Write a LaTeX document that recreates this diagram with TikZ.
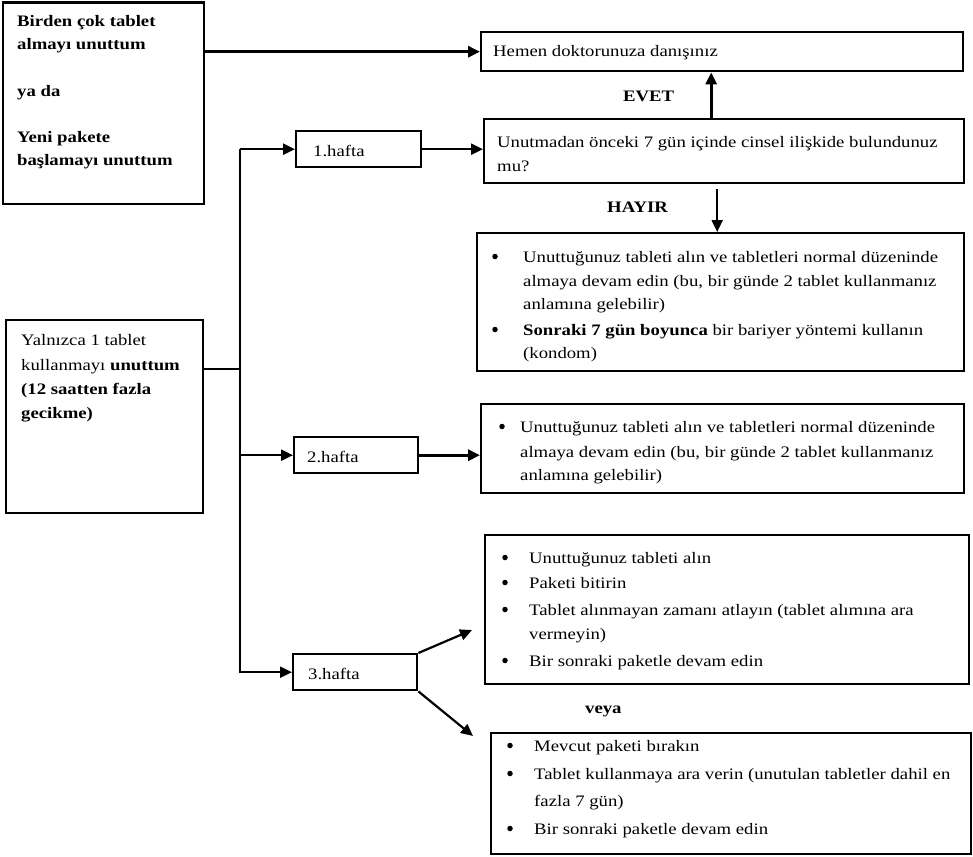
\documentclass[tikz,border=0pt]{standalone}
\usepackage{fontspec}
\setmainfont{Liberation Serif}[FakeStretch=1.17]
\usetikzlibrary{arrows.meta}
\newcommand\mytext[4]{\node[tx] (#1) at (#2,#3) {#4};}
\newcommand\mybold[4]{\node[tx,font=\fontsize{16}{19}\selectfont\bfseries] (#1) at (#2,#3) {#4};}
\newcommand\mybul[5]{\node[dot] (#1b) at (#2,#4-5.5) {};\node[tx] (#1) at (#3,#4) {#5};}
\begin{document}
\begin{tikzpicture}[x=1pt,y=-1pt,
  box/.style={draw, line width=2.4pt, anchor=north west, inner sep=0pt},
  tx/.style={anchor=base west, inner sep=0pt, font=\fontsize{16}{19}\selectfont},
  dot/.style={circle, fill, inner sep=0pt, minimum size=5.5pt},
  conn/.style={line width=2.2pt, -{Triangle[length=12pt,width=11pt]}},
  plain/.style={line width=2.2pt}]
\useasboundingbox (0,0) rectangle (973,856);
% boxes
\node[box, minimum width=201.5pt, minimum height=201.5pt] (A) at (1.5,1.5) {};
\node[box, minimum width=482pt, minimum height=39pt] (B) at (480,31) {};
\node[box, minimum width=480pt, minimum height=64pt] (Q) at (483,118) {};
\node[box, minimum width=487pt, minimum height=138pt] (C) at (476,232) {};
\node[box, minimum width=197pt, minimum height=193pt] (D) at (5,319) {};
\node[box, minimum width=125pt, minimum height=36pt] (H1) at (295,130) {};
\node[box, minimum width=124pt, minimum height=36pt] (H2) at (293,436) {};
\node[box, minimum width=124pt, minimum height=36pt] (H3) at (292,653) {};
\node[box, minimum width=483pt, minimum height=89pt] (E) at (480,403) {};
\node[box, minimum width=484pt, minimum height=149pt] (F) at (484,534) {};
\node[box, minimum width=480pt, minimum height=121pt] (G) at (490,732) {};
% connectors
\draw[conn, line width=3pt] (A.east |- B.west) -- (B.west);
\draw[conn, line width=3pt] ([xshift=-13pt]Q.north) -- ([xshift=-13pt]Q.north |- B.south);
\draw[conn] ([xshift=-7pt,yshift=-5pt]Q.south) -- ([xshift=-7pt]Q.south |- C.north);
\coordinate (vm) at (240,369);
\draw[plain] (D.east |- vm) -- (vm);
\draw[conn] (H1.west -| vm) |- (H3.west);
\draw[conn] (H1.west -| vm) -- (H1.west);
\draw[conn] (H2.west -| vm) -- (H2.west);
\draw[conn] (H1.east) -- (H1.east -| Q.west);
\draw[conn, line width=3pt] (H2.east) -- (H2.east -| E.west);
\coordinate (f3) at (472,630);
\coordinate (g3) at (473,736);
\draw[conn] (H3.north east) -- (f3);
\draw[conn] (H3.south east) -- (g3);
% texts
\mybold{a1}{17}{27}{Birden çok tablet}
\mybold{a2}{17}{50}{almayı unuttum}
\mybold{a3}{17}{96}{ya da}
\mybold{a4}{17}{142}{Yeni pakete}
\mybold{a5}{17}{165}{başlamayı unuttum}
\mytext{b1}{493}{57}{Hemen doktorunuza danışınız}
\mybold{evet}{623}{102}{EVET}
\mytext{q1}{497}{147}{Unutmadan önceki 7 gün içinde cinsel ilişkide bulundunuz}
\mytext{q2}{497}{171}{mu?}
\mybold{hayir}{607}{212}{HAYIR}
\mybul{c1}{495}{523}{262}{Unuttuğunuz tableti alın ve tabletleri normal düzeninde}
\mytext{c2}{523}{286}{almaya devam edin (bu, bir günde 2 tablet kullanmanız}
\mytext{c3}{523}{309}{anlamına gelebilir)}
\mybul{c4}{495}{523}{335}{\textbf{Sonraki 7 gün boyunca} bir bariyer yöntemi kullanın}
\mytext{c5}{523}{358}{(kondom)}
\mytext{d1}{21}{345}{Yalnızca 1 tablet}
\mytext{d2}{21}{370}{kullanmayı \textbf{unuttum}}
\mybold{d3}{21}{394}{(12 saatten fazla}
\mybold{d4}{21}{418}{gecikme)}
\mytext{h1}{313}{156}{1.hafta}
\mytext{h2}{307}{462}{2.hafta}
\mytext{h3}{308}{679}{3.hafta}
\mybul{e1}{502}{520}{432}{Unuttuğunuz tableti alın ve tabletleri normal düzeninde}
\mytext{e2}{520}{457}{almaya devam edin (bu, bir günde 2 tablet kullanmanız}
\mytext{e3}{520}{480}{anlamına gelebilir)}
\mybul{f1}{505}{529}{563}{Unuttuğunuz tableti alın}
\mybul{f2}{505}{529}{588}{Paketi bitirin}
\mybul{f3t}{505}{529}{615}{Tablet alınmayan zamanı atlayın (tablet alımına ara}
\mytext{f4}{529}{639}{vermeyin)}
\mybul{f5}{505}{529}{666}{Bir sonraki paketle devam edin}
\mybold{veya}{585}{713}{veya}
\mybul{g1}{510}{534}{751}{Mevcut paketi bırakın}
\mybul{g2}{510}{534}{779}{Tablet kullanmaya ara verin (unutulan tabletler dahil en}
\mytext{g3t}{534}{806}{fazla 7 gün)}
\mybul{g4}{510}{534}{834}{Bir sonraki paketle devam edin}
\end{tikzpicture}
\end{document}
